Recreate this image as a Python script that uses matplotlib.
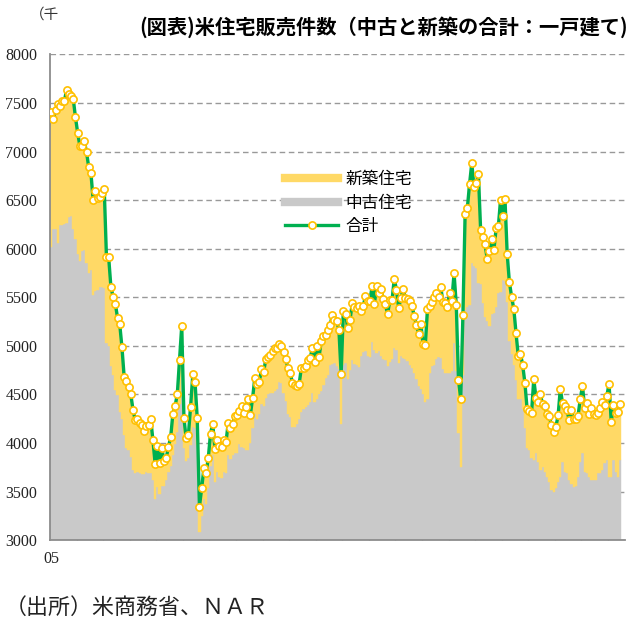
import numpy as np
import matplotlib
matplotlib.use("Agg")
import matplotlib.pyplot as plt
from matplotlib.lines import Line2D

# monthly, from Jan 2005 (thousand units, SAAR)
total = [
    7403, 7337, 7427, 7485, 7468, 7523, 7523, 7633, 7591, 7574, 7543, 7352,
    7193, 7056, 7056, 7108, 6995, 6837, 6775, 6501, 6596, 6518, 6532, 6576,
    6614, 5914, 5911, 5609, 5506, 5434, 5290, 5222, 4985, 4679, 4638, 4580,
    4501, 4340, 4237, 4244, 4203, 4190, 4124, 4180, 4190, 4244, 4028, 3784,
    3969, 3798, 3945, 3818, 3849, 3962, 4059, 4302, 4381, 4504, 4854, 5207,
    4254, 4048, 4082, 4374, 4707, 4628, 4257, 3345, 3534, 3740, 3691, 3849,
    4096, 4199, 3935, 4031, 3969, 3962, 4031, 4010, 4209, 4158, 4200, 4275,
    4290, 4333, 4381, 4312, 4374, 4453, 4291, 4460, 4669, 4604, 4628, 4758,
    4731, 4868, 4888, 4903, 4944, 4981, 4974, 5022, 5001, 4937, 4865, 4769,
    4724, 4621, 4600, 4590, 4604, 4769, 4775, 4796, 4854, 4872, 4981, 4834,
    5001, 4882, 5047, 5104, 5115, 5160, 5211, 5317, 5266, 5259, 5163, 4707,
    5362, 5331, 5180, 5263, 5438, 5403, 5392, 5410, 5358, 5410, 5516, 5461,
    5465, 5616, 5427, 5619, 5541, 5588, 5482, 5427, 5328, 5472, 5472, 5691,
    5575, 5389, 5495, 5590, 5489, 5479, 5465, 5412, 5308, 5218, 5127, 5230,
    5018, 5004, 5379, 5413, 5448, 5499, 5541, 5499, 5602, 5451, 5438, 5403,
    5547, 5464, 5749, 5423, 4652, 4453, 5314, 6357, 6418, 6665, 6881, 6638,
    6679, 6765, 6195, 6117, 6045, 5890, 5976, 6099, 5989, 6209, 6230, 6501,
    6333, 6511, 5945, 5654, 5506, 5379, 5129, 4899, 4919, 4803, 4618, 4350,
    4333, 4309, 4659, 4466, 4422, 4501, 4398, 4384, 4299, 4278, 4182, 4113,
    4168, 4285, 4559, 4409, 4384, 4337, 4237, 4337, 4244, 4244, 4281, 4453,
    4587, 4360, 4409, 4299, 4357, 4299, 4285, 4309, 4363, 4422, 4391, 4484,
    4610, 4219, 4388, 4306, 4316, 4401,
]
existing = [
    6020, 6200, 6200, 6060, 6240, 6240, 6250, 6260, 6330, 6340, 6200, 6100,
    5950, 5870, 5980, 5990, 5850, 5750, 5780, 5520, 5560, 5580, 5610, 5610,
    5600, 5030, 5000, 4790, 4700, 4550, 4490, 4320, 4250, 4080, 3950, 3930,
    3860, 3720, 3690, 3700, 3690, 3680, 3680, 3700, 3690, 3690, 3620, 3420,
    3550, 3480, 3560, 3560, 3620, 3700, 3760, 3880, 3990, 4110, 4400, 4700,
    3950, 3820, 3850, 3980, 4170, 4150, 3980, 3080, 3250, 3420, 3370, 3540,
    3760, 3880, 3600, 3700, 3650, 3640, 3700, 3690, 3880, 3840, 3880, 3900,
    3900, 3990, 3960, 3950, 3930, 3930, 4000, 4150, 4300, 4250, 4300, 4400,
    4380, 4460, 4500, 4510, 4520, 4540, 4560, 4630, 4620, 4510, 4430, 4300,
    4270, 4170, 4170, 4200, 4250, 4320, 4350, 4370, 4390, 4420, 4510, 4420,
    4450, 4500, 4540, 4600, 4670, 4700, 4800, 4810, 4820, 4790, 4760, 4200,
    4800, 4820, 4660, 4750, 4850, 4810, 4800, 4780, 4900, 4940, 4950, 4900,
    4890, 5040, 4960, 4930, 4950, 4900, 4870, 4850, 4790, 4830, 4860, 4980,
    4960, 4820, 4900, 4880, 4860, 4840, 4800, 4770, 4720, 4660, 4590, 4560,
    4500, 4420, 4450, 4720, 4790, 4800, 4860, 4890, 4880, 4760, 4720, 4720,
    4720, 4740, 5030, 4740, 4100, 3750, 4700, 5370, 5400, 5420, 5850, 5820,
    5800, 5650, 5640, 5440, 5300, 5260, 5200, 5330, 5340, 5400, 5540, 5550,
    5680, 5670, 5450, 5050, 4920, 4800, 4650, 4450, 4450, 4350, 4150, 3950,
    3930, 3850, 3830, 3900, 3800, 3720, 3750, 3700, 3650, 3600, 3520, 3500,
    3540, 3600, 3650, 3800, 3700, 3690, 3620, 3580, 3550, 3560, 3650, 3800,
    3900, 3700, 3690, 3650, 3620, 3620, 3620, 3690, 3690, 3720, 3790, 3830,
    3650, 3650, 3830, 3700, 3650, 3830,
]
yticks = [3000, 3500, 4000, 4500, 5000, 5500, 6000, 6500, 7000, 7500, 8000]
first_label = "05"

total = np.array(total)
existing = np.array(existing)
new_homes = total - existing
x = np.arange(len(total))

YELLOW = "#FFD966"
GRAY = "#C9C9C9"
GREEN = "#00B050"
GOLD = "#FFC000"
AXIS = "#8C8C8C"

fig = plt.figure(figsize=(6.32, 6.22), dpi=100)
ax = fig.add_axes([50 / 632, 1 - 540.2 / 622, 575 / 632, (540.2 - 54.4) / 622])

ax.bar(x, existing, width=1.0, color=GRAY, edgecolor=GRAY, linewidth=0.3, zorder=2)
ax.bar(x, new_homes, bottom=existing, width=1.0, color=YELLOW, edgecolor=YELLOW,
       linewidth=0.3, zorder=2)
ax.plot(x, total, color=GREEN, lw=2.4, marker="o", ms=5.2, mfc="white", mec=GOLD,
        mew=1.2, zorder=3)

ax.set_xlim(-0.5, -0.5 + 575 / 2.214)
ax.set_ylim(3000, 8000)
ax.set_yticks(yticks)
ax.set_yticklabels([str(v) for v in yticks], fontfamily="Liberation Serif", fontsize=11.5)
ax.tick_params(axis="y", length=0, pad=9, colors="#222222")
ax.yaxis.grid(True, color="#999999", lw=1.0, linestyle=(0, (4, 2.6)))
ax.set_axisbelow(True)

# year ticks between categories, label only on the first month
ax.set_xticks(np.arange(11.5, len(total), 12), minor=True)
ax.tick_params(axis="x", which="minor", direction="in", length=4, color=AXIS, width=1)
ax.set_xticks([0])
ax.set_xticklabels([first_label], fontfamily="Liberation Serif", fontsize=11.5)
ax.tick_params(axis="x", which="major", length=0, pad=8, colors="#222222")

for side in ["top", "right"]:
    ax.spines[side].set_visible(False)
for side in ["left", "bottom"]:
    ax.spines[side].set_color(AXIS)
    ax.spines[side].set_linewidth(1.3)

handles = [
    Line2D([], [], color=YELLOW, lw=6),
    Line2D([], [], color=GRAY, lw=6),
    Line2D([], [], color=GREEN, lw=2.4, marker="o", ms=5.2, mfc="white", mec=GOLD, mew=1.2),
]
ax.legend(handles, ["新築住宅", "中古住宅", "合計"], loc="upper left",
          bbox_to_anchor=(285 / 632, 1 - 171 / 622), bbox_transform=fig.transFigure,
          frameon=False, borderpad=0, borderaxespad=0, handlelength=3.2,
          handletextpad=0.45, labelspacing=0.4,
          prop={"family": "Noto Sans CJK JP", "size": 12})

fig.text(628 / 632, 1 - 27 / 622, "(図表)米住宅販売件数（中古と新築の合計：一戸建て)",
         ha="right", va="center", fontfamily="Noto Sans CJK JP", fontweight="bold",
         fontsize=14.6)
fig.text(30 / 632, 1 - 15 / 622, "（千", ha="left", va="center",
         fontfamily="Noto Sans CJK JP", fontsize=10.5, color="#333333")
fig.text(5 / 632, 1 - 608 / 622, "（出所）米商務省、ＮＡＲ", ha="left", va="center",
         fontfamily="Noto Sans CJK JP", fontsize=15.8, color="#222222")

fig.savefig("out.png", dpi=100)
